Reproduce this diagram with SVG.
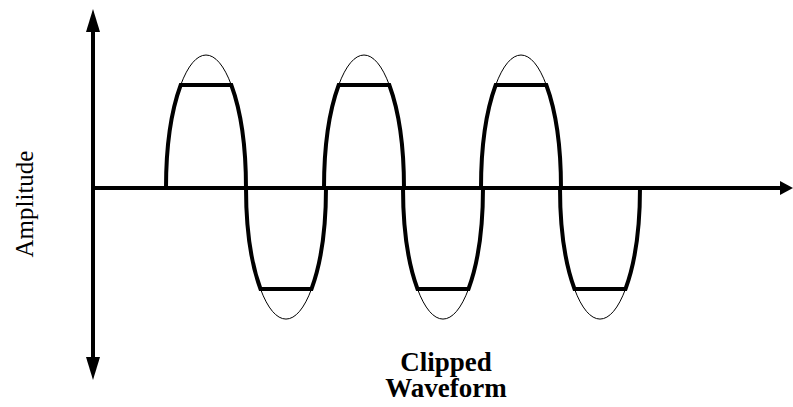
<svg xmlns="http://www.w3.org/2000/svg" width="793" height="407" viewBox="0 0 793 407">
<style>
.axis{stroke:#000;stroke-width:4;fill:none}
.head{fill:#000;stroke:none}
.thick{stroke:#000;stroke-width:4;fill:none;stroke-linejoin:miter}
.thin{stroke:#000;stroke-width:1;fill:none}
.lbl{font-family:"Liberation Serif","Times New Roman",serif;fill:#000}
</style>
<rect width="793" height="407" fill="#fff"/>
<g id="axes">
<line class="axis" x1="93" y1="30" x2="93" y2="359"/>
<line class="axis" x1="93" y1="188" x2="782" y2="188"/>
<polygon class="head" points="93,9 86,32 100,32"/>
<polygon class="head" points="93,380 86,357 100,357"/>
<polygon class="head" points="793,188 780,181 780,195"/>
</g>
<g id="waveform">
<g id="pos1">
<path class="thin" d="M180.7,85 A40 133 0 0 1 231.3,85"/>
<path class="thick" d="M166,188 A40 133 0 0 1 180.7,85 L231.3,85 A40 133 0 0 1 246,188"/>
</g>
<g id="neg1">
<path class="thin" d="M260.5,289 A40 131 0 0 0 311.5,289"/>
<path class="thick" d="M246,188 A40 131 0 0 0 260.5,289 L311.5,289 A40 131 0 0 0 326,188"/>
</g>
<g id="pos2">
<path class="thin" d="M338.7,85 A40 133 0 0 1 389.3,85"/>
<path class="thick" d="M324,188 A40 133 0 0 1 338.7,85 L389.3,85 A40 133 0 0 1 404,188"/>
</g>
<g id="neg2">
<path class="thin" d="M417.5,289 A40 131 0 0 0 468.5,289"/>
<path class="thick" d="M403,188 A40 131 0 0 0 417.5,289 L468.5,289 A40 131 0 0 0 483,188"/>
</g>
<g id="pos3">
<path class="thin" d="M495.7,85 A40 133 0 0 1 546.3,85"/>
<path class="thick" d="M481,188 A40 133 0 0 1 495.7,85 L546.3,85 A40 133 0 0 1 561,188"/>
</g>
<g id="neg3">
<path class="thin" d="M574.5,289 A40 131 0 0 0 625.5,289"/>
<path class="thick" d="M560,188 A40 131 0 0 0 574.5,289 L625.5,289 A40 131 0 0 0 640,188"/>
</g>
</g>
<g id="labels">
<text class="lbl" transform="translate(33,204) rotate(-90)" text-anchor="middle" font-size="25">Amplitude</text>
<text class="lbl" x="446" y="371" text-anchor="middle" font-size="27" font-weight="bold">Clipped</text>
<text class="lbl" x="446" y="397" text-anchor="middle" font-size="27" font-weight="bold">Waveform</text>
</g>
</svg>
